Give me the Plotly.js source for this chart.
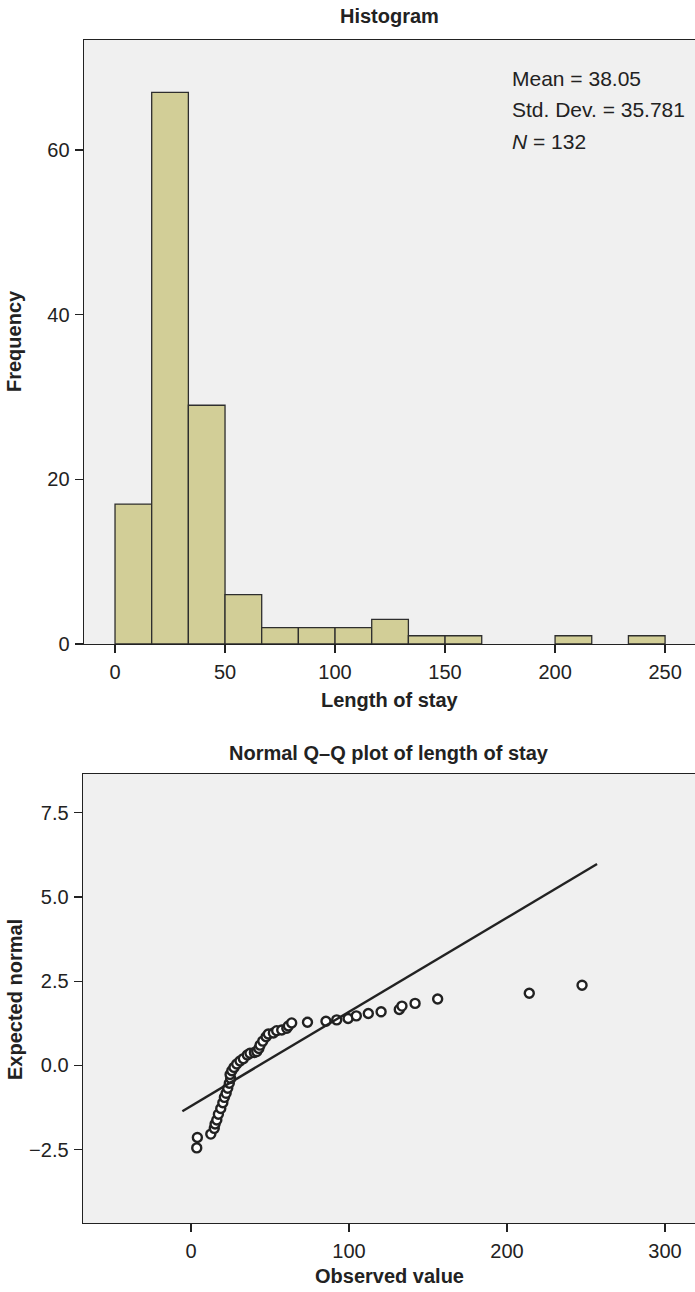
<!DOCTYPE html>
<html>
<head>
<meta charset="utf-8">
<script src="https://cdn.plot.ly/plotly-3.0.1.min.js"></script>
<style>html,body{margin:0;padding:0;background:#fff;}#chart{width:695px;height:1292px;}</style>
</head>
<body>
<div id="chart"></div>
<script>
// ---- Histogram data ----
const binStart = [0, 16.667, 33.333, 50, 66.667, 83.333, 100, 116.667, 133.333, 150, 200, 233.333];
const binCounts = [17, 67, 29, 6, 2, 2, 2, 3, 1, 1, 1, 1];
const binWidth = 16.667;
const histXTicks = [0, 50, 100, 150, 200, 250];
const histYTicks = [0, 20, 40, 60];
const statLines = ["Mean = 38.05", "Std. Dev. = 35.781", "<i>N</i> = 132"];

// ---- Q-Q plot data ----
const observed = [3.6, 4.0, 12.5, 14.7, 15.2, 16.3, 17.3, 18.8, 20.1, 21.1, 22.2, 23.2, 24.2, 25.1, 24.7, 25.8,
  27.2, 28.9, 31.0, 33.1, 35.6, 37.3, 40.1, 41.6, 42.9, 43.7, 45.4, 47.5, 48.9, 52.1, 54.2, 57.4, 60.6, 61.6,
  63.7, 73.7, 85.4, 92.2, 99.4, 104.6, 112.2, 120.3, 131.8, 133.5, 141.8, 156.1, 214.1, 247.5];
const expectedNormal = [-2.45, -2.14, -2.04, -1.87, -1.74, -1.62, -1.45, -1.28, -1.11, -0.95, -0.83, -0.68, -0.53, -0.39, -0.27, -0.16,
  -0.06, 0.04, 0.13, 0.20, 0.31, 0.36, 0.38, 0.41, 0.50, 0.60, 0.72, 0.85, 0.93, 0.96, 1.03, 1.05, 1.10, 1.17,
  1.26, 1.28, 1.31, 1.35, 1.39, 1.47, 1.54, 1.59, 1.66, 1.76, 1.84, 1.97, 2.14, 2.38];
const refLineX = [-5.5, 257];
const refLineY = [-1.36, 5.98];
const qqXTicks = [0, 100, 200, 300];
const qqYTicks = [-2.5, 0, 2.5, 5, 7.5];

// ---- layout helpers ----
const W = 695, H = 1292;
const px = v => v / W;
const py = v => 1 - v / H;
const FONT = "Liberation Sans, Arial, Helvetica, sans-serif";
const INK = "#222222";

const traces = [
  {
    type: "bar", x: binStart, y: binCounts, width: binWidth, offset: 0,
    marker: { color: "#D2CE97", line: { color: "#2e2e2e", width: 1.3 } },
    xaxis: "x", yaxis: "y", hoverinfo: "x+y", showlegend: false
  },
  {
    type: "scatter", mode: "markers", x: observed, y: expectedNormal,
    marker: { symbol: "circle", size: 9, color: "#ffffff", line: { color: INK, width: 2.4 } },
    xaxis: "x2", yaxis: "y2", showlegend: false
  },
  {
    type: "scatter", mode: "lines", x: refLineX, y: refLineY,
    line: { color: INK, width: 2.4 },
    xaxis: "x2", yaxis: "y2", showlegend: false, hoverinfo: "skip"
  }
];

const axisCommon = {
  showgrid: false, zeroline: false, showline: true, linecolor: INK, linewidth: 1.4,
  ticks: "outside", ticklen: 8, tickwidth: 1.2, tickcolor: INK,
  tickfont: { family: FONT, size: 20, color: INK }, fixedrange: true
};

const annText = (text, x, y, size, opts) => Object.assign({
  text: text, xref: "paper", yref: "paper", x: px(x), y: py(y), showarrow: false,
  xanchor: "center", yanchor: "middle", font: { family: FONT, size: size, color: INK }
}, opts || {});

const annotations = [
  annText("<b>Histogram</b>", 390, 16, 20),
  annText("<b>Length of stay</b>", 390, 700, 20),
  annText("<b>Frequency</b>", 14, 341, 20, { textangle: -90 }),
  annText("<b>Normal Q\u2013Q plot of length of stay</b>", 389, 753, 20),
  annText("<b>Observed value</b>", 389, 1276, 20),
  annText("<b>Expected normal</b>", 15, 1000, 20, { textangle: -90 }),
  annText(statLines[0], 510, 78, 21, { xanchor: "left" }),
  annText(statLines[1], 510, 110, 21, { xanchor: "left" }),
  annText(statLines[2], 510, 141, 21, { xanchor: "left" })
];

const layout = {
  width: W, height: H,
  margin: { l: 0, r: 0, t: 0, b: 0 },
  paper_bgcolor: "#ffffff", plot_bgcolor: "#F0F0F0",
  showlegend: false, bargap: 0,
  xaxis: Object.assign({}, axisCommon, {
    domain: [px(84), 1], range: [-14.1, 263.6], tickvals: histXTicks, mirror: true, anchor: "y", ticklabelstandoff: 2
  }),
  yaxis: Object.assign({}, axisCommon, {
    domain: [py(644), py(40)], range: [0, 73.36], tickvals: histYTicks, anchor: "x", ticklabelstandoff: 1
  }),
  xaxis2: Object.assign({}, axisCommon, {
    domain: [px(83), 1], range: [-68.4, 319], tickvals: qqXTicks, mirror: true, anchor: "y2", ticklabelstandoff: 2
  }),
  yaxis2: Object.assign({}, axisCommon, {
    domain: [py(1223), py(774)], range: [-4.68, 8.65], tickvals: qqYTicks, tickformat: ".1f", anchor: "x2", ticklabelstandoff: 1
  }),
  annotations: annotations
};

Plotly.newPlot("chart", traces, layout, { staticPlot: true, displayModeBar: false });
</script>
</body>
</html>
